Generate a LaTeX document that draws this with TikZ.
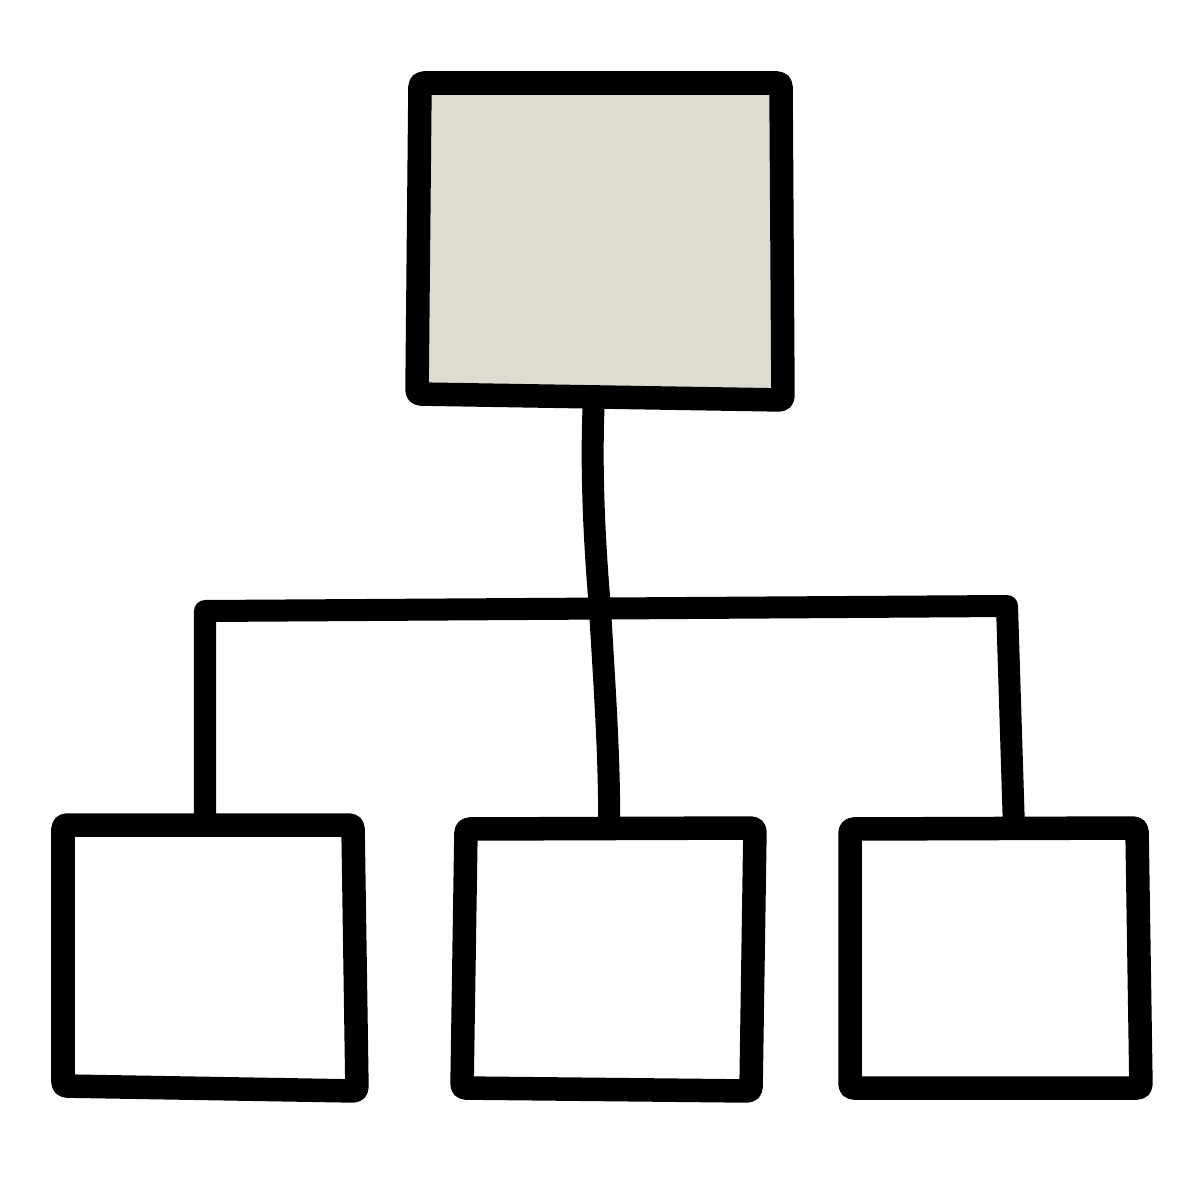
\documentclass[tikz,border=0pt]{standalone}
\usepackage{tikz}

\definecolor{headfill}{RGB}{222,220,208}

\begin{document}
\begin{tikzpicture}[x=0.01cm,y=-0.01cm,
    unit/.style ={draw, line width=0.235cm, line join=round, rounded corners=1pt},
    link/.style ={draw, line width=0.22cm, line join=round, line cap=butt}]
   \useasboundingbox (0,0) rectangle (1200,1200);
   % top box corners
   \coordinate (head-nw) at (420,83);
   \coordinate (head-ne) at (781,83);
   \coordinate (head-se) at (783,400);
   \coordinate (head-sw) at (417,394);
   % child box corners
   \coordinate (left-nw) at (63,825);
   \coordinate (left-ne) at (353,825);
   \coordinate (left-se) at (357,1091);
   \coordinate (left-sw) at (63,1086);
   \coordinate (mid-nw) at (466,829);
   \coordinate (mid-ne) at (755,828);
   \coordinate (mid-se) at (751,1091);
   \coordinate (mid-sw) at (462,1088);
   \coordinate (right-nw) at (850,829);
   \coordinate (right-ne) at (1137,828);
   \coordinate (right-se) at (1141,1088);
   \coordinate (right-sw) at (850,1088);
   % connector ends
   \coordinate (head-out) at (594,396);
   \coordinate (left-in) at (205,826);
   \coordinate (mid-in) at (609,830);
   \coordinate (right-in) at (1014,829);
   \coordinate (bar-l) at (205,611);
   \coordinate (bar-r) at (1007,606);
   \coordinate (cross) at (600,609);
   % connectors
   \draw[link] (left-in) -- (bar-l) -- (bar-r) -- (right-in);
   \draw[link] (head-out) .. controls (590,480) and (596,560) .. (cross)
      .. controls (604,680) and (610,760) .. (mid-in);
   % boxes
   \draw[unit, fill=headfill] (head-nw) -- (head-ne) -- (head-se) -- (head-sw) -- cycle;
   \draw[unit, fill=white] (left-nw) -- (left-ne) -- (left-se) -- (left-sw) -- cycle;
   \draw[unit, fill=white] (mid-nw) -- (mid-ne) -- (mid-se) -- (mid-sw) -- cycle;
   \draw[unit, fill=white] (right-nw) -- (right-ne) -- (right-se) -- (right-sw) -- cycle;
\end{tikzpicture}
\end{document}
